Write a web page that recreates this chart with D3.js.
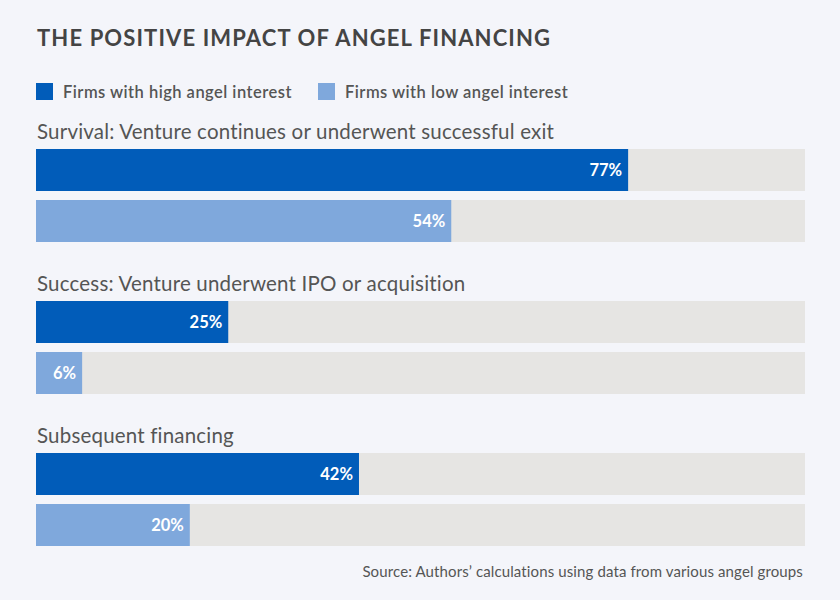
<!DOCTYPE html>
<html><head><meta charset="utf-8">
<script src="https://cdn.jsdelivr.net/npm/d3@7"></script>
<style>
html,body{margin:0;padding:0;background:#f4f5fa;}
svg{display:block;font-family:"Source Sans Pro","Lato","Open Sans",sans-serif;}
</style></head>
<body><svg id="c" width="840" height="600"></svg>
<script>
const categories = ["Survival: Venture continues or underwent successful exit","Success: Venture underwent IPO or acquisition","Subsequent financing"];
const seriesNames = ["Firms with high angel interest","Firms with low angel interest"];
const highValues = [77,25,42];
const lowValues = [54,6,20];
const title = "THE POSITIVE IMPACT OF ANGEL FINANCING";
const source = "Source: Authors\u2019 calculations using data from various angel groups";

const colors = ["#015cb9","#7fa8dc"];
const svg = d3.select("#c");
svg.append("rect").attr("width",840).attr("height",600).attr("fill","#f4f5fa");

svg.append("text").attr("x",37).attr("y",46).text(title)
  .attr("font-size",22).attr("font-weight",700).attr("fill","#444").attr("letter-spacing",1.12);

// legend
const lx=[36,318];
seriesNames.forEach((n,i)=>{
  svg.append("rect").attr("x",lx[i]).attr("y",83).attr("width",17).attr("height",17).attr("fill",colors[i]);
  svg.append("text").attr("x",lx[i]+27).attr("y",98).text(n).attr("font-size",16.5).attr("font-weight",600)
    .attr("fill","#555").attr("letter-spacing",0.47);
});

const x = d3.scaleLinear().domain([0,100]).range([36,805]);
const groupY = d3.scaleBand().domain(d3.range(categories.length)).range([149,149+152*3]).paddingInner(0).paddingOuter(0);
const barH = 42, gap = 9;

categories.forEach((c,gi)=>{
  const gy = groupY(gi);
  svg.append("text").attr("x",37).attr("y",gy-10).text(c).attr("font-size",20.5).attr("font-weight",400)
    .attr("fill","#555").attr("letter-spacing",0.19);
  [highValues[gi],lowValues[gi]].forEach((v,si)=>{
    const y = gy + si*(barH+gap);
    svg.append("rect").attr("x",x(0)).attr("y",y).attr("width",x(100)-x(0)).attr("height",barH).attr("fill","#e6e5e3");
    svg.append("rect").attr("x",x(0)).attr("y",y).attr("width",x(v)-x(0)).attr("height",barH).attr("fill",colors[si]);
    svg.append("text").attr("x",x(v)-6).attr("y",y+barH/2+6).attr("text-anchor","end").text(v+"%")
      .attr("font-size",16.5).attr("font-weight",700).attr("fill","#fff");
  });
});

svg.append("text").attr("x",803).attr("y",577).attr("text-anchor","end").text(source)
  .attr("font-size",15).attr("fill","#555").attr("letter-spacing",0.12);
</script></body></html>
